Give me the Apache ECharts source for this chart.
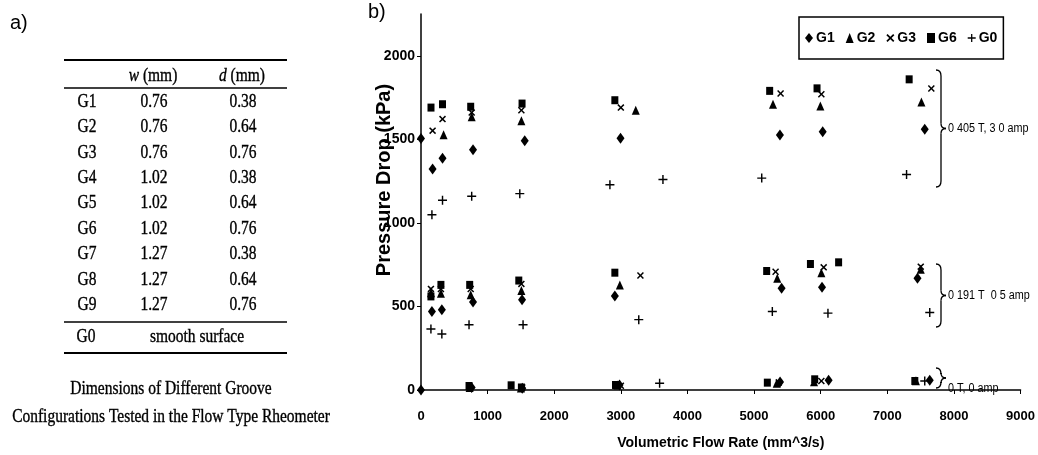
<!DOCTYPE html>
<html>
<head>
<meta charset="utf-8">
<script src="https://cdn.jsdelivr.net/npm/echarts@6/dist/echarts.min.js"></script>
<style>
  html, body { margin: 0; padding: 0; background: #fff; }
  #chart { width: 1038px; height: 455px; }
</style>
</head>
<body>
<div id="chart"></div>
<script>
// panel a: groove table
const grooveNames = ['G1', 'G2', 'G3', 'G4', 'G5', 'G6', 'G7', 'G8', 'G9'];
const grooveW = ['0.76', '0.76', '0.76', '1.02', '1.02', '1.02', '1.27', '1.27', '1.27'];
const grooveD = ['0.38', '0.64', '0.76', '0.38', '0.64', '0.76', '0.38', '0.64', '0.76'];

// panel b: [flow rate (mm^3/s), pressure drop (kPa)]
const g1 = [
  [0, 1505], [174, 1323], [323, 1387], [781, 1438], [1557, 1492], [2995, 1506], [5388, 1526], [6030, 1546], [7562, 1561],
  [164, 470], [313, 480], [781, 526], [1517, 540], [2910, 563], [5413, 609], [6020, 615], [7453, 669],
  [0, 0], [760, 15], [1520, 10], [2980, 30], [5390, 48], [6119, 58], [7637, 58]
];
const g2 = [
  [339, 1528], [761, 1635], [1507, 1611], [3224, 1674], [5284, 1710], [5995, 1700], [7512, 1724],
  [150, 582], [299, 579], [746, 570], [1507, 595], [2985, 629], [5348, 668], [6010, 702], [7502, 722],
  [730, 15], [1500, 12], [2950, 30], [5340, 40], [5900, 50], [7430, 55]
];
const g3 = [
  [174, 1552], [323, 1621], [761, 1660], [1507, 1674], [3000, 1690], [5398, 1774], [6010, 1770], [7661, 1804],
  [149, 605], [299, 604], [746, 604], [1507, 635], [3294, 685], [5323, 708], [6045, 734], [7502, 738],
  [1520, 15], [3000, 25], [5370, 45], [6010, 54]
];
const g6 = [
  [150, 1690], [323, 1710], [746, 1695], [1517, 1714], [2910, 1734], [5234, 1790], [5945, 1805], [7328, 1859],
  [149, 560], [299, 629], [731, 629], [1468, 655], [2910, 702], [5189, 712], [5846, 754], [6269, 764],
  [721, 24], [1353, 28], [1507, 15], [2920, 30], [5199, 44], [5910, 64], [7413, 54]
];
const g0 = [
  [164, 1049], [323, 1135], [761, 1159], [1483, 1175], [2836, 1228], [3632, 1260], [5115, 1268], [7289, 1290],
  [149, 365], [313, 335], [721, 391], [1532, 391], [3269, 421], [5274, 470], [6109, 460], [7637, 464],
  [3582, 40], [7562, 54]
];
const xTicks = [0, 1000, 2000, 3000, 4000, 5000, 6000, 7000, 8000, 9000];
const yTicks = [0, 500, 1000, 1500, 2000];
const fieldLabels = ['0 405 T, 3 0 amp', '0 191 T  0 5 amp', '0 T, 0 amp'];

const chart = echarts.init(document.getElementById('chart'));

const CROSS = 'path://M4.2,0 H5.8 V4.2 H10 V5.8 H5.8 V10 H4.2 V5.8 H0 V4.2 H4.2 Z';
const TIMES = 'path://M1.5,0 L5,3.5 L8.5,0 L10,1.5 L6.5,5 L10,8.5 L8.5,10 L5,6.5 L1.5,10 L0,8.5 L3.5,5 L0,1.5 Z';

const serif = 'Liberation Serif';
const sans = 'Liberation Sans';

// table graphics
const tbl = [];
function tText(txt, x, y, size, opt) {
  tbl.push(Object.assign({
    type: 'text', x: x, y: y, scaleX: 0.86,
    style: {
      text: txt, x: 0, y: 0, fill: '#000', stroke: '#000', lineWidth: 0.35,
      font: size + 'px "' + serif + '"',
      textAlign: 'center', textVerticalAlign: 'middle'
    }
  }, opt || {}));
}
function tLine(y, w) {
  tbl.push({ type: 'line', shape: { x1: 64, y1: y, x2: 287, y2: y }, style: { stroke: '#000', lineWidth: w } });
}
tLine(60, 2); tLine(88, 1.5); tLine(322, 1.5); tLine(353, 2);
[['w', 153], ['d', 242]].forEach(function (h) {
  tbl.push({
    type: 'text', x: h[1], y: 76, scaleX: 0.86,
    style: {
      text: '{i|' + h[0] + '} (mm)', x: 0, y: 0, fill: '#000', stroke: '#000', lineWidth: 0.35,
      textAlign: 'center', textVerticalAlign: 'middle',
      font: '18px "' + serif + '"', rich: { i: { fontStyle: 'italic', fontSize: 18, fontFamily: serif } }
    }
  });
});
grooveNames.forEach(function (n, i) {
  const y = 102 + i * 25.4;
  tText(n, 87, y, 18);
  tText(grooveW[i], 154, y, 18);
  tText(grooveD[i], 243, y, 18);
});
tText('G0', 86, 337, 18);
tText('smooth surface', 197, 337, 18);
tText('Dimensions of Different Groove', 171, 389, 18);
tText('Configurations Tested in the Flow Type Rheometer', 171, 417, 18);

// braces next to the clusters, built from curves and lines
const annot = [];
function brace(x, y1, y2) {
  const ym = (y1 + y2) / 2;
  const st = { stroke: '#000', fill: null, lineWidth: 1.3 };
  annot.push({ type: 'bezierCurve', shape: { x1: x, y1: y1, x2: x + 5, y2: y1 + 6, cpx1: x + 5, cpy1: y1 }, style: st });
  annot.push({ type: 'line', shape: { x1: x + 5, y1: y1 + 6, x2: x + 5, y2: ym - 5 }, style: st });
  annot.push({ type: 'bezierCurve', shape: { x1: x + 5, y1: ym - 5, x2: x + 10, y2: ym, cpx1: x + 5, cpy1: ym }, style: st });
  annot.push({ type: 'bezierCurve', shape: { x1: x + 10, y1: ym, x2: x + 5, y2: ym + 5, cpx1: x + 5, cpy1: ym }, style: st });
  annot.push({ type: 'line', shape: { x1: x + 5, y1: ym + 5, x2: x + 5, y2: y2 - 6 }, style: st });
  annot.push({ type: 'bezierCurve', shape: { x1: x + 5, y1: y2 - 6, x2: x, y2: y2, cpx1: x + 5, cpy1: y2 }, style: st });
}
const braces = [[70, 187], [264, 327], [368, 388]];
braces.forEach(function (b, i) {
  brace(936, b[0], b[1]);
  annot.push({
    type: 'text', x: 948, y: (i === 2 ? 389 : (b[0] + b[1]) / 2), scaleX: 0.9,
    style: { text: fieldLabels[i], x: 0, y: 0, fill: '#000', font: '12px "' + sans + '"', textVerticalAlign: 'middle' }
  });
});

const otherText = [
  { type: 'text', left: 10, top: 13, style: { text: 'a)', fill: '#000', font: '20px "' + sans + '"' } },
  { type: 'text', left: 368, top: 2, style: { text: 'b)', fill: '#000', font: '20px "' + sans + '"' } },
  // y axis title, drawn under the tick labels as in the scan
  {
    type: 'text', x: 384, y: 180, rotation: Math.PI / 2, z: -1,
    style: {
      text: 'Pressure Drop (kPa)', x: 0, y: 0, fill: '#000',
      font: 'bold 20px "' + sans + '"', textAlign: 'center', textVerticalAlign: 'middle'
    }
  }
];

function sc(name, data, symbol, size) {
  return {
    name: name, type: 'scatter', data: data, symbol: symbol, symbolSize: size,
    itemStyle: { color: '#000', opacity: 1 }, emphasis: { disabled: true }, z: 3
  };
}

const plain = function (v) { return String(v); };

chart.setOption({
  animation: false,
  backgroundColor: '#fff',
  grid: { left: 421, right: 15, top: 14, bottom: 61, containLabel: false },
  legend: {
    left: 799, top: 17,
    padding: [14, 6, 14, 6],
    itemGap: 11, itemWidth: 8, itemHeight: 10,
    borderColor: '#000', borderWidth: 1.5,
    textStyle: { fontFamily: sans, fontWeight: 'bold', fontSize: 14, color: '#000', padding: [0, 0, 0, -2] },
    data: ['G1', 'G2', 'G3', 'G6', 'G0']
  },
  xAxis: {
    type: 'value', min: 0, max: 9000, interval: 1000,
    name: 'Volumetric Flow Rate (mm^3/s)', nameLocation: 'middle', nameGap: 46,
    nameTextStyle: { fontFamily: sans, fontWeight: 'bold', fontSize: 14, color: '#000' },
    axisLine: { onZero: false, lineStyle: { color: '#000', width: 1.5 } },
    axisTick: { show: true, length: 4, lineStyle: { color: '#000' } },
    axisLabel: {
      margin: 20, color: '#000', fontFamily: sans, fontWeight: 'bold', fontSize: 13,
      customValues: xTicks, formatter: plain
    },
    splitLine: { show: false }
  },
  yAxis: {
    type: 'value', min: 0, max: 2250,
    axisLine: { show: true, onZero: false, lineStyle: { color: '#000', width: 1.5 } },
    axisTick: { show: true, length: 4, lineStyle: { color: '#000' }, customValues: yTicks },
    axisLabel: {
      margin: 6, color: '#000', fontFamily: sans, fontWeight: 'bold', fontSize: 14,
      customValues: yTicks, formatter: plain
    },
    splitLine: { show: false }
  },
  graphic: tbl.concat(annot).concat(otherText),
  series: [
    sc('G1', g1, 'diamond', [8, 11]),
    sc('G2', g2, 'triangle', [8, 9]),
    sc('G3', g3, TIMES, [7, 7]),
    sc('G6', g6, 'rect', [7, 8]),
    sc('G0', g0, CROSS, [9, 9])
  ]
});
</script>
</body>
</html>
